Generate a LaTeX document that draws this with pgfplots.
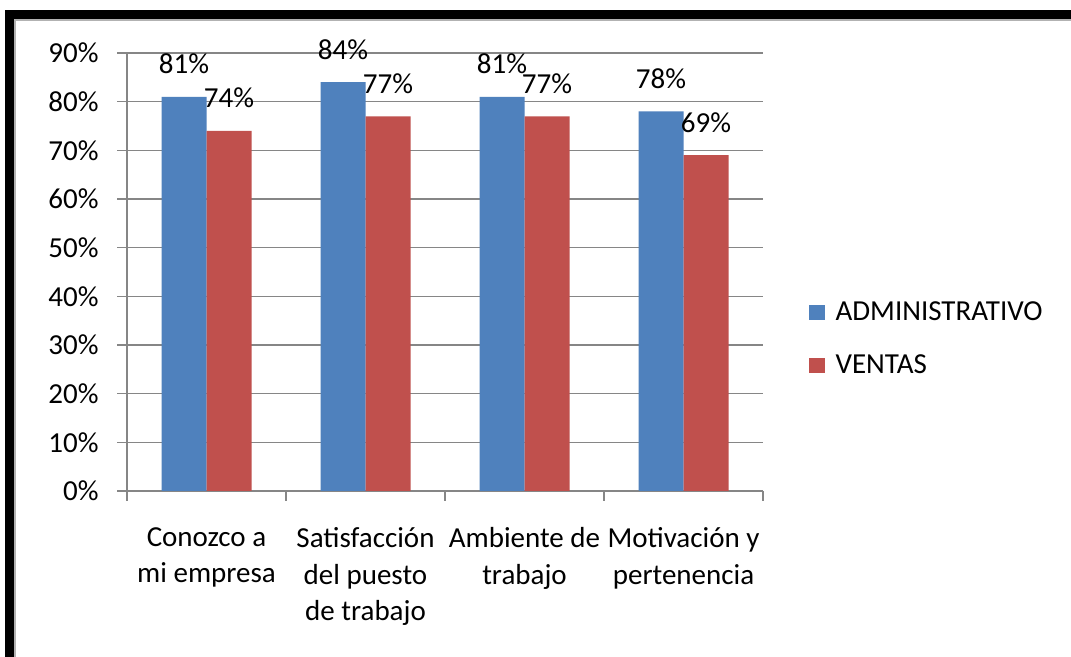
\documentclass[border=0pt]{standalone}
\usepackage{fontspec}
\setmainfont{Carlito}
\usepackage{pgfplots}
\pgfplotsset{compat=1.18}
\definecolor{admin}{HTML}{4F81BD}
\definecolor{ventas}{HTML}{C0504D}
\definecolor{gridgray}{HTML}{868686}
\begin{document}
\begin{tikzpicture}
\fontsize{14.5}{18.3}\selectfont
\fill[white] (0,0) rectangle (535.5pt,328.5pt);
\fill[black] (2.5pt,0) rectangle (7pt,323.5pt);
\fill[black] (2.5pt,319pt) rectangle (535.5pt,323.5pt);
\fill[gray!60] (7pt,0) rectangle (8pt,319pt);
\fill[gray!60] (7pt,318pt) rectangle (535.5pt,319pt);
\begin{axis}[
  at={(63.5pt,83pt)}, anchor=south west,
  scale only axis, width=318pt, height=219pt,
  ybar=0pt, bar width=22.5pt,
  xmin=-0.5, xmax=3.5, ymin=0, ymax=90,
  ytick={0,10,...,90},
  yticklabel={\pgfmathprintnumber{\tick}\%},
  xtick={0,1,2,3},
  xticklabels={{Conozco a\\mi empresa},{Satisfacción\\del puesto\\de trabajo},{Ambiente de\\trabajo},{Motivación y\\pertenencia}},
  xticklabel style={align=center, anchor=north, inner sep=0pt, yshift=-13pt},
  yticklabel style={anchor=east, inner sep=0pt, xshift=-9pt},
  minor xtick={-0.5,0.5,1.5,2.5,3.5},
  major x tick style={draw=none},
  tick align=outside, major tick length=5pt, minor tick length=5pt,
  axis x line*=bottom, axis y line*=left,
  axis line style={-, gridgray, line width=0.6pt},
  ymajorgrids, grid style={gridgray, line width=0.6pt},
  tick style={gridgray, line width=0.6pt},
  /pgf/number format/assume math mode=true,
  nodes near coords={\pgfmathprintnumber{\pgfplotspointmeta}\%},
  every node near coord/.append style={anchor=base, yshift=11.5pt, text=black, inner sep=0pt},
  legend style={at={(1.0723,0.350)}, anchor=west, draw=none, fill=none, inner sep=0pt, outer sep=0pt,
    row sep=17.5pt, column sep=5.5pt,
    nodes={inner sep=0pt, text height=9pt, text depth=0pt, anchor=base west}},
  legend cell align=left,
  legend image code/.code={\fill[#1] (0pt,0pt) rectangle (7.8pt,7.8pt);},
]
\addplot[fill=admin, draw=none] coordinates {(0,81) (1,84) (2,81) (3,78)};
\addplot[fill=ventas, draw=none] coordinates {(0,74) (1,77) (2,77) (3,69)};
\legend{ADMINISTRATIVO, VENTAS}
\end{axis}
\pgfresetboundingbox
\useasboundingbox (0,0) rectangle (535.5pt,328.5pt);
\end{tikzpicture}
\end{document}
